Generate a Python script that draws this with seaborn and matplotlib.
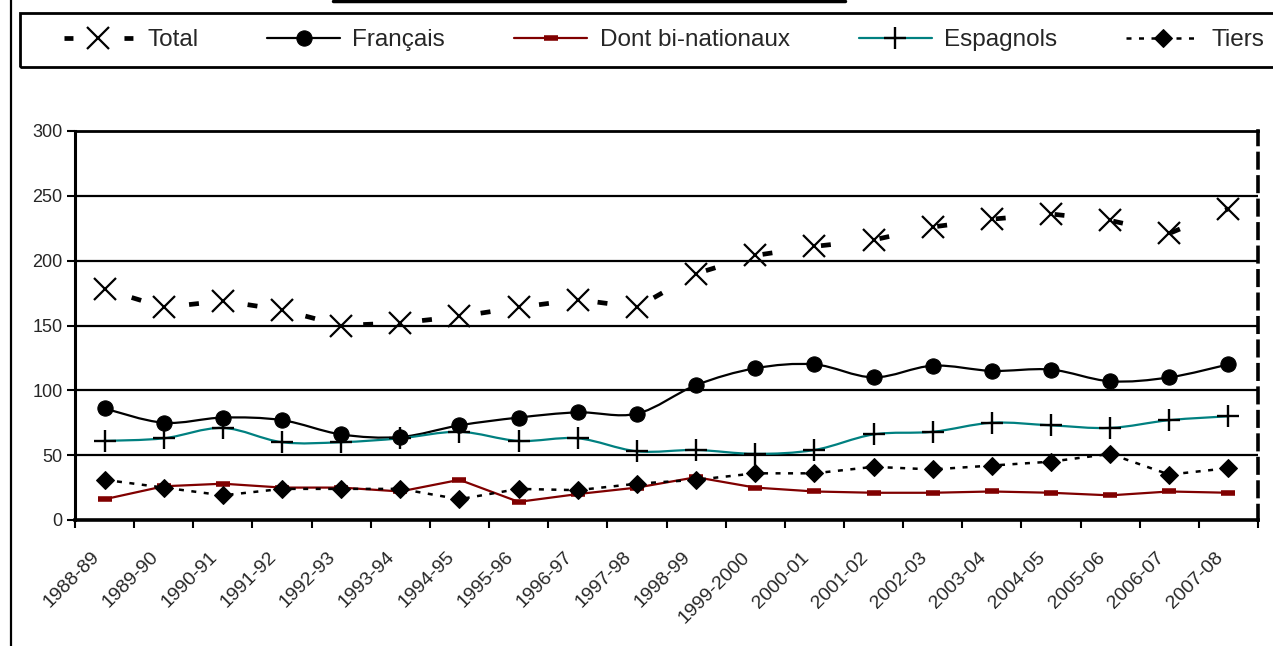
import numpy as np
import pandas as pd
import matplotlib
matplotlib.use("Agg")
import matplotlib.pyplot as plt
import matplotlib.transforms as mtrans
from matplotlib.lines import Line2D
from matplotlib.patches import Rectangle, PathPatch
from matplotlib.path import Path
import seaborn as sns

saisons = ["1988-89", "1989-90", "1990-91", "1991-92", "1992-93", "1993-94",
           "1994-95", "1995-96", "1996-97", "1997-98", "1998-99", "1999-2000",
           "2000-01", "2001-02", "2002-03", "2003-04", "2004-05", "2005-06",
           "2006-07", "2007-08"]
total = [178, 164, 169, 162, 150, 152, 157, 164, 170, 164,
         190, 204, 211, 216, 226, 232, 236, 231, 221, 240]
francais = [86, 75, 79, 77, 66, 64, 73, 79, 83, 82,
            104, 117, 120, 110, 119, 115, 116, 107, 110, 120]
bi_nationaux = [16, 26, 28, 25, 25, 22, 31, 14, 20, 25,
                33, 25, 22, 21, 21, 22, 21, 19, 22, 21]
espagnols = [61, 63, 71, 60, 60, 63, 68, 61, 63, 53,
             54, 51, 54, 66, 68, 75, 73, 71, 77, 80]
tiers = [31, 25, 19, 24, 24, 24, 16, 24, 23, 28,
         31, 36, 36, 41, 39, 42, 45, 51, 35, 40]


def smooth_path(xs, ys):
    # excel-like smoothed line (catmull-rom as bezier)
    pts = np.column_stack([xs, ys]).astype(float)
    n = len(pts)
    verts = [pts[0]]
    codes = [Path.MOVETO]
    for i in range(n - 1):
        p0 = pts[max(i - 1, 0)]
        p1 = pts[i]
        p2 = pts[i + 1]
        p3 = pts[min(i + 2, n - 1)]
        verts += [p1 + (p2 - p0) / 6, p2 - (p3 - p1) / 6, p2]
        codes += [Path.CURVE4] * 3
    return Path(verts, codes)


sns.set_theme(style="white")
plt.rcParams["font.family"] = ["Liberation Sans", "DejaVu Sans"]

df = pd.DataFrame({"pos": np.arange(len(saisons)), "saison": saisons,
                   "Total": total, "Français": francais,
                   "Dont bi-nationaux": bi_nationaux,
                   "Espagnols": espagnols, "Tiers": tiers})

W, H = 1273, 646
fig = plt.figure(figsize=(W / 100, H / 100), dpi=100)
ax = fig.add_axes([75 / W, 1 - 520 / H, (1258 - 75) / W, (520 - 131) / H])

# series
sns.lineplot(data=df, x="pos", y="Total", ax=ax, color="black", lw=3.4,
             linestyle=(6.5, (2.1, 10.4)), marker="x", markersize=16, mew=1.6,
             mec="black", label="Total", sort=False, zorder=5)
sns.lineplot(data=df, x="pos", y="Français", ax=ax, color="black", lw=1.6,
             marker="o", markersize=11, mec="black", mfc="black",
             label="Français", sort=False, zorder=4)
sns.lineplot(data=df, x="pos", y="Dont bi-nationaux", ax=ax, color="#800000",
             lw=1.6, marker="_", markersize=10, mew=4, mec="#800000",
             label="Dont bi-nationaux", sort=False, zorder=3)
sns.lineplot(data=df, x="pos", y="Espagnols", ax=ax, color="#008080", lw=1.6,
             marker="+", markersize=16, mew=1.7, mec="black",
             label="Espagnols", sort=False, zorder=4)
sns.lineplot(data=df, x="pos", y="Tiers", ax=ax, color="black", lw=1.8,
             linestyle=(0, (2, 3)), marker="D", markersize=9, mec="black",
             mfc="black", label="Tiers", sort=False, zorder=4)

ax.set_xlim(-0.5, len(saisons) - 0.5)
ax.set_ylim(0, 300)
ax.set_xlabel("")
ax.set_ylabel("")

# grid
for yv in [50, 100, 150, 200, 250]:
    ax.axhline(yv, color="black", lw=1.6, zorder=1)

# spines
for side in ["left", "bottom", "top"]:
    ax.spines[side].set_color("black")
ax.spines["left"].set_linewidth(2.2)
ax.spines["bottom"].set_linewidth(2.6)
ax.spines["top"].set_linewidth(2.0)
ax.spines["right"].set_color("black")
ax.spines["right"].set_linewidth(2.6)
ax.spines["right"].set_linestyle((0, (4, 2.5)))

# ticks
ax.set_yticks(range(0, 301, 50))
ax.tick_params(axis="y", which="major", direction="out", length=6, width=1.5,
               color="black", labelsize=13, pad=3, left=True)
ax.set_xticks(range(len(saisons)))
ax.set_xticklabels(saisons, rotation=45, ha="right", va="center",
                   rotation_mode="anchor", fontsize=14)
ax.tick_params(axis="x", which="major", length=0, pad=25)
ax.set_xticks(np.arange(-0.5, len(saisons)), minor=True)
ax.tick_params(axis="x", which="minor", direction="out", length=6, width=1.5,
               color="black", bottom=True)
shift = mtrans.ScaledTranslation(-8 / 100, 0, fig.dpi_scale_trans)
for lab in ax.get_xticklabels():
    lab.set_transform(lab.get_transform() + shift)

# legend (handles copied now, before the smoothed lines replace two of them)
leg = ax.legend(loc="center left", bbox_to_anchor=(51 / W, 1 - 40 / H),
                bbox_transform=fig.transFigure, ncol=5, fontsize=17.5,
                handlelength=3.0, handletextpad=0.5, columnspacing=2.85,
                borderpad=0.45, borderaxespad=0, frameon=False)
leg.get_lines()[0].set_linestyle((12.28, (1.9, 10.8)))
fig.add_artist(Rectangle((20 / W, 1 - 67 / H), 1300 / W, 54 / H,
                         transform=fig.transFigure, facecolor="none",
                         edgecolor="black", lw=2))

# smoothed lines for Français and Espagnols
for line in ax.get_lines():
    if line.get_label() in ("Français", "Espagnols"):
        line.set_linestyle("none")
ax.add_patch(PathPatch(smooth_path(df["pos"], df["Français"]), facecolor="none",
                       edgecolor="black", lw=1.6, zorder=3.9))
ax.add_patch(PathPatch(smooth_path(df["pos"], df["Espagnols"]), facecolor="none",
                       edgecolor="#008080", lw=1.6, zorder=3.9))

# outer frame pieces
fig.add_artist(Line2D([11 / W, 11 / W], [0, 1], color="black", lw=1.6,
                      transform=fig.transFigure))
fig.add_artist(Line2D([333 / W, 845 / W], [1 - 1 / H, 1 - 1 / H],
                      color="black", lw=2.5, transform=fig.transFigure))

fig.savefig("out.png", dpi=100)
